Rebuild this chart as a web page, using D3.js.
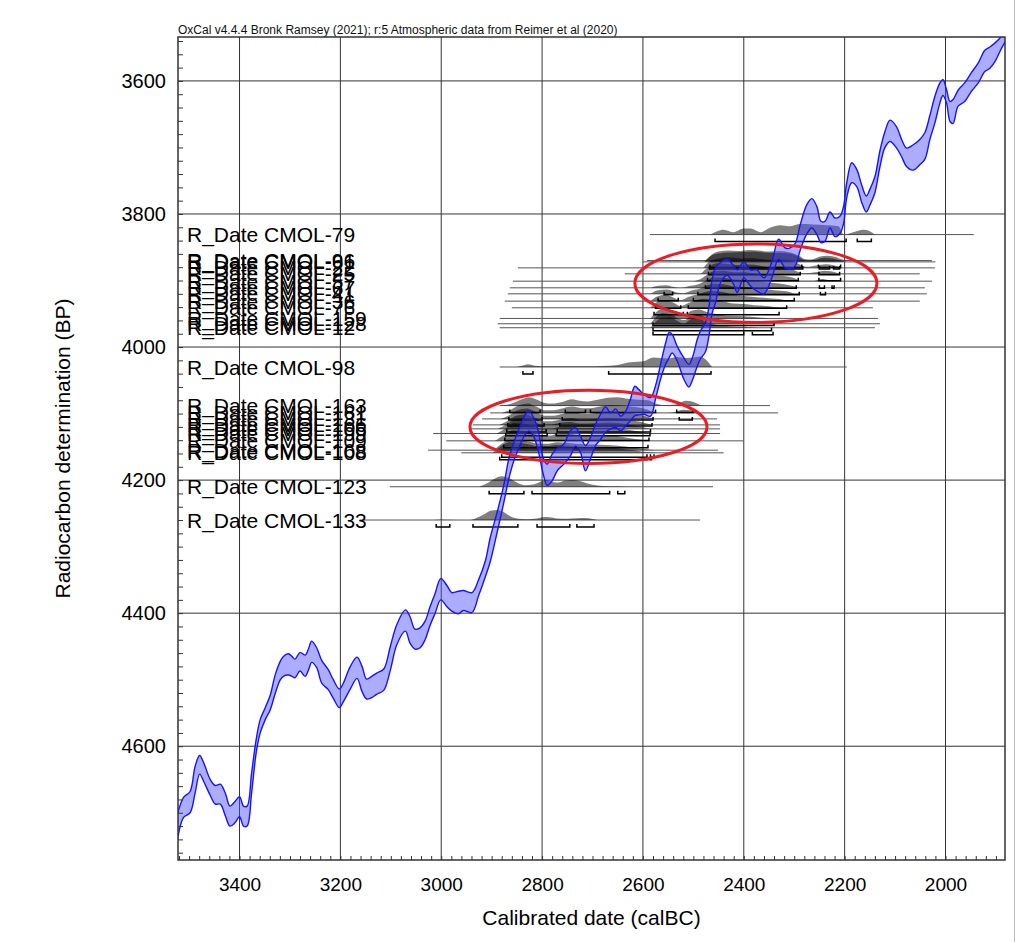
<!DOCTYPE html>
<html>
<head>
<meta charset="utf-8">
<script src="https://cdn.jsdelivr.net/npm/d3@7"></script>
<style>
  body { margin: 0; background: #fff; }
  text { font-family: "Liberation Sans", Arial, sans-serif; }
</style>
</head>
<body>
<div id="vis"></div>
<script>
// frame + plot box
const FRAME_WIDTH = 1020;
const FRAME_HEIGHT = 942;
const PLOT = { left: 178, right: 1005, top: 37, bottom: 860 };

// calibration curve (IntCal20): calBC year, BP mean, BP error
const curveYear = [3524, 3511, 3498, 3488, 3479, 3471, 3458, 3448, 3438, 3428, 3419, 3409, 3400, 3392, 3385, 3376, 3367, 3359, 3349, 3339,
  3329, 3319, 3313, 3303, 3296, 3290, 3280, 3270, 3263, 3257, 3247, 3237, 3224, 3214, 3202, 3194, 3181, 3167, 3157, 3148,
  3138, 3128, 3114, 3101, 3088, 3071, 3062, 3052, 3042, 3032, 3022, 3012, 3001, 2989, 2979, 2966, 2956, 2939, 2926, 2912,
  2903, 2889, 2876, 2866, 2856, 2843, 2833, 2826, 2817, 2807, 2798, 2790, 2780, 2770, 2757, 2744, 2734, 2724, 2714, 2704,
  2694, 2684, 2674, 2664, 2654, 2644, 2634, 2625, 2616, 2608, 2598, 2585, 2575, 2565, 2555, 2548, 2542, 2532, 2519, 2509,
  2502, 2492, 2486, 2476, 2469, 2463, 2456, 2446, 2433, 2420, 2413, 2400, 2387, 2374, 2360, 2344, 2331, 2318, 2308, 2298,
  2288, 2275, 2265, 2255, 2247, 2239, 2229, 2219, 2209, 2202, 2196, 2186, 2176, 2166, 2157, 2150, 2140, 2130, 2120, 2110,
  2097, 2087, 2077, 2064, 2051, 2041, 2031, 2021, 2011, 2005, 1998, 1991, 1985, 1975, 1962, 1949, 1935, 1922, 1912, 1902,
  1889, 1880];
const curveBP = [4725, 4692, 4684, 4650, 4628, 4639, 4662, 4673, 4672, 4688, 4705, 4699, 4691, 4705, 4705, 4655, 4600, 4570, 4551, 4534,
  4506, 4486, 4480, 4477, 4480, 4483, 4473, 4479, 4469, 4458, 4467, 4488, 4500, 4514, 4528, 4519, 4498, 4482, 4499, 4514,
  4511, 4506, 4500, 4468, 4432, 4411, 4425, 4439, 4437, 4426, 4404, 4385, 4364, 4374, 4383, 4384, 4381, 4384, 4362, 4332,
  4305, 4263, 4221, 4183, 4157, 4132, 4116, 4111, 4120, 4143, 4178, 4192, 4181, 4169, 4161, 4145, 4135, 4146, 4167, 4152,
  4132, 4120, 4109, 4111, 4107, 4115, 4107, 4095, 4081, 4083, 4086, 4090, 4068, 4037, 4010, 3997, 3995, 4010, 4032, 4043,
  4033, 4008, 3997, 3985, 3961, 3925, 3907, 3888, 3880, 3892, 3901, 3884, 3896, 3900, 3908, 3883, 3853, 3866, 3867, 3861,
  3835, 3808, 3799, 3810, 3827, 3826, 3809, 3820, 3816, 3801, 3765, 3738, 3746, 3770, 3785, 3775, 3756, 3717, 3688, 3675,
  3685, 3701, 3715, 3715, 3707, 3698, 3670, 3643, 3618, 3610, 3623, 3646, 3646, 3626, 3617, 3602, 3588, 3570, 3565, 3557,
  3542, 3530];
const curveErr = [20, 15, 16, 20, 14, 14, 12, 14, 15, 17, 15, 16, 15, 15, 15, 15, 10, 10, 9, 11,
  14, 14, 15, 16, 15, 14, 14, 16, 16, 16, 15, 17, 15, 14, 14, 14, 17, 16, 19, 15,
  16, 16, 16, 18, 15, 16, 20, 15, 15, 14, 14, 15, 16, 16, 14, 17, 15, 15, 12, 12,
  18, 15, 13, 15, 14, 14, 15, 15, 14, 15, 12, 16, 20, 17, 15, 19, 14, 12, 19, 16,
  16, 19, 19, 12, 14, 11, 11, 16, 22, 19, 15, 14, 10, 11, 16, 19, 14, 11, 16, 17,
  17, 20, 21, 22, 22, 25, 26, 15, 12, 14, 17, 12, 12, 16, 12, 12, 15, 15, 16, 17,
  19, 22, 22, 21, 16, 15, 12, 14, 13, 13, 11, 15, 13, 13, 12, 12, 12, 12, 12, 16,
  16, 13, 14, 19, 19, 20, 18, 20, 15, 12, 10, 15, 18, 12, 14, 14, 15, 16, 16, 14,
  9, 9];

// R_Date entries
const dateNames = ["CMOL-79", "CMOL-96", "CMOL-61", "CMOL-22", "CMOL-25", "CMOL-57", "CMOL-67", "CMOL-41", "CMOL-36",
  "CMOL-76", "CMOL-159", "CMOL-128", "CMOL-12", "CMOL-98", "CMOL-163", "CMOL-161", "CMOL-131", "CMOL-166", "CMOL-106",
  "CMOL-199", "CMOL-109", "CMOL-168", "CMOL-108", "CMOL-123", "CMOL-133"];
const dateBP = [3831, 3870, 3872, 3881, 3890, 3901, 3911, 3920, 3931, 3941, 3957, 3965, 3971, 4030,
  4088, 4099, 4108, 4117, 4123, 4130, 4141, 4155, 4159, 4210, 4260];
const lineFrom = [2586, 2592, 2600, 2848, 2636, 2858, 2864, 2868, 2874, 2860, 2884, 2888, 2884, 2884,
  2884, 2903, 2919, 2937, 2943, 3016, 2990, 3026, 2960, 3102, 3162];
const lineTo = [1944, 2027, 2020, 2021, 2051, 2027, 2041, 2037, 2051, 2144, 2134, 2130, 2140, 2196,
  2348, 2332, 2453, 2447, 2447, 2447, 2400, 2451, 2440, 2461, 2487];

// relative probability densities: [calBC, relative height]
const dens79 = [[2466, 0], [2453, 0.33], [2440, 0.47], [2420, 0.23], [2400, 0.57], [2387, 0.57], [2367, 0.23], [2347, 0.67], [2328, 0.9], [2308, 0.8], [2288, 1.0], [2262, 0.97], [2235, 0.9], [2212, 0.8], [2202, 0], [2183, 0.23], [2163, 0.47], [2150, 0.33], [2140, 0]];
const dens96 = [[2475, 0], [2465, 0.5], [2450, 0.85], [2430, 0.95], [2410, 0.9], [2390, 1.0], [2370, 0.95], [2350, 0.85], [2330, 0.9], [2310, 0.8], [2290, 0.45], [2280, 0.15], [2265, 0.1], [2250, 0.35], [2235, 0.45], [2220, 0.35], [2205, 0.1], [2195, 0]];
const dens61 = [[2478, 0], [2466, 0.55], [2450, 0.8], [2425, 0.9], [2400, 0.95], [2380, 1.0], [2360, 0.9], [2340, 0.85], [2320, 0.85], [2300, 0.7], [2288, 0.35], [2275, 0.12], [2258, 0.2], [2240, 0.4], [2225, 0.35], [2210, 0.15], [2198, 0]];
const dens22 = [[2480, 0], [2468, 0.6], [2450, 0.9], [2430, 1.0], [2405, 0.9], [2385, 0.95], [2365, 0.85], [2345, 0.75], [2325, 0.8], [2305, 0.7], [2290, 0.35], [2275, 0.1], [2255, 0.25], [2238, 0.35], [2222, 0.25], [2205, 0]];
const dens25 = [[2485, 0], [2470, 0.65], [2452, 1.0], [2432, 0.95], [2410, 0.85], [2390, 0.9], [2370, 0.8], [2350, 0.65], [2330, 0.7], [2310, 0.55], [2295, 0.25], [2280, 0.05], [2258, 0.15], [2240, 0.3], [2222, 0.2], [2210, 0]];
const dens57 = [[2500, 0], [2488, 0.15], [2475, 0.55], [2460, 0.95], [2440, 1.0], [2420, 0.85], [2400, 0.85], [2380, 0.75], [2360, 0.65], [2340, 0.55], [2320, 0.5], [2300, 0.3], [2288, 0.05], [2260, 0.05], [2245, 0.2], [2232, 0.1], [2220, 0]];
const dens67 = [[2585, 0], [2570, 0.2], [2555, 0.25], [2540, 0.1], [2525, 0], [2505, 0.2], [2490, 0.35], [2475, 0.7], [2458, 1.0], [2440, 0.95], [2420, 0.8], [2400, 0.75], [2380, 0.65], [2360, 0.55], [2340, 0.45], [2320, 0.35], [2300, 0.15], [2290, 0]];
const dens41 = [[2585, 0], [2570, 0.35], [2553, 0.4], [2535, 0.15], [2520, 0.05], [2505, 0.3], [2490, 0.45], [2475, 0.75], [2458, 0.95], [2440, 0.9], [2420, 0.7], [2400, 0.65], [2380, 0.55], [2360, 0.45], [2340, 0.35], [2315, 0.25], [2300, 0]];
const dens36 = [[2585, 0], [2572, 0.45], [2556, 0.6], [2540, 0.35], [2525, 0.1], [2510, 0.4], [2495, 0.6], [2478, 0.85], [2462, 1.0], [2440, 0.85], [2420, 0.6], [2400, 0.5], [2380, 0.4], [2355, 0.3], [2330, 0.2], [2310, 0]];
const dens76 = [[2585, 0], [2572, 0.55], [2556, 0.75], [2540, 0.5], [2525, 0.15], [2510, 0.45], [2495, 0.7], [2480, 0.85], [2462, 0.8], [2440, 0.6], [2420, 0.4], [2400, 0.35], [2380, 0.25], [2350, 0.15], [2330, 0]];
const dens159 = [[2585, 0], [2574, 0.6], [2560, 0.95], [2545, 0.8], [2530, 0.4], [2518, 0.3], [2505, 0.7], [2490, 0.85], [2472, 0.6], [2450, 0.4], [2430, 0.25], [2400, 0.2], [2370, 0.1], [2350, 0]];
const dens128 = [[2585, 0], [2575, 0.6], [2560, 1.0], [2545, 0.9], [2530, 0.5], [2518, 0.35], [2505, 0.75], [2490, 0.85], [2475, 0.55], [2455, 0.35], [2430, 0.2], [2400, 0.15], [2370, 0.05], [2360, 0]];
const dens12 = [[2585, 0], [2575, 0.55], [2560, 0.95], [2545, 1.0], [2530, 0.6], [2518, 0.4], [2505, 0.8], [2490, 0.9], [2475, 0.55], [2458, 0.3], [2430, 0.15], [2400, 0.1], [2370, 0]];
const dens98 = [[2850, 0], [2838, 0.15], [2828, 0.25], [2815, 0.12], [2800, 0.08], [2760, 0.06], [2720, 0.08], [2680, 0.1], [2650, 0.2], [2625, 0.45], [2610, 0.5], [2595, 0.6], [2580, 0.9], [2565, 0.85], [2550, 0.8], [2533, 0.95], [2515, 0.85], [2500, 0.9], [2487, 1.0], [2475, 0.7], [2463, 0]];
const dens163 = [[2880, 0], [2860, 0.2], [2840, 0.6], [2826, 0.8], [2810, 0.55], [2795, 0.25], [2780, 0.2], [2760, 0.35], [2740, 0.6], [2725, 0.45], [2710, 0.4], [2690, 0.55], [2670, 0.75], [2650, 0.8], [2630, 0.65], [2610, 0.55], [2590, 0.5], [2575, 0.2], [2560, 0.05], [2535, 0.1], [2515, 0.45], [2500, 0.35], [2485, 0]];
const dens161 = [[2880, 0], [2862, 0.3], [2845, 0.75], [2828, 0.9], [2812, 0.6], [2795, 0.25], [2778, 0.25], [2758, 0.45], [2740, 0.6], [2722, 0.45], [2705, 0.45], [2685, 0.6], [2665, 0.75], [2645, 0.7], [2625, 0.6], [2605, 0.5], [2590, 0.3], [2578, 0.05], [2560, 0], [2540, 0.05], [2520, 0.3], [2505, 0.25], [2490, 0]];
const dens131 = [[2882, 0], [2865, 0.35], [2848, 0.85], [2830, 1.0], [2812, 0.65], [2795, 0.3], [2778, 0.3], [2758, 0.5], [2740, 0.65], [2722, 0.5], [2705, 0.5], [2685, 0.6], [2665, 0.7], [2645, 0.65], [2625, 0.55], [2605, 0.4], [2590, 0.2], [2578, 0]];
const dens166 = [[2885, 0], [2868, 0.4], [2850, 0.9], [2832, 1.0], [2815, 0.7], [2798, 0.35], [2780, 0.35], [2760, 0.55], [2742, 0.65], [2724, 0.5], [2706, 0.5], [2686, 0.6], [2666, 0.65], [2646, 0.6], [2626, 0.45], [2605, 0.3], [2590, 0.1], [2580, 0]];
const dens106 = [[2888, 0], [2870, 0.45], [2852, 0.95], [2834, 1.0], [2816, 0.7], [2800, 0.4], [2782, 0.4], [2762, 0.6], [2744, 0.65], [2726, 0.5], [2708, 0.5], [2688, 0.55], [2668, 0.6], [2648, 0.55], [2628, 0.4], [2608, 0.25], [2592, 0.08], [2582, 0]];
const dens199 = [[2890, 0], [2872, 0.5], [2855, 1.0], [2836, 0.95], [2818, 0.7], [2800, 0.45], [2782, 0.45], [2764, 0.65], [2746, 0.65], [2728, 0.5], [2710, 0.5], [2690, 0.55], [2670, 0.55], [2650, 0.5], [2630, 0.35], [2610, 0.2], [2592, 0.05], [2582, 0]];
const dens109 = [[2893, 0], [2875, 0.55], [2858, 1.0], [2840, 0.95], [2820, 0.75], [2802, 0.5], [2784, 0.5], [2766, 0.7], [2748, 0.7], [2730, 0.55], [2712, 0.5], [2692, 0.5], [2672, 0.5], [2652, 0.45], [2632, 0.3], [2612, 0.15], [2595, 0.05], [2582, 0]];
const dens168 = [[2896, 0], [2880, 0.6], [2862, 1.0], [2844, 0.95], [2825, 0.8], [2806, 0.6], [2788, 0.6], [2770, 0.75], [2752, 0.7], [2734, 0.6], [2714, 0.55], [2694, 0.55], [2674, 0.5], [2654, 0.45], [2634, 0.35], [2615, 0.2], [2598, 0.1], [2585, 0.05], [2575, 0]];
const dens108 = [[2898, 0], [2882, 0.6], [2865, 1.0], [2846, 0.95], [2826, 0.8], [2808, 0.65], [2790, 0.65], [2772, 0.75], [2754, 0.7], [2736, 0.6], [2716, 0.55], [2696, 0.55], [2676, 0.5], [2656, 0.45], [2636, 0.35], [2617, 0.25], [2600, 0.1], [2585, 0.05], [2572, 0]];
const dens123 = [[2925, 0], [2910, 0.3], [2895, 0.75], [2880, 1.0], [2865, 0.8], [2850, 0.4], [2835, 0.15], [2815, 0.25], [2800, 0.55], [2790, 0.65], [2778, 0.45], [2768, 0.4], [2755, 0.6], [2740, 0.65], [2725, 0.55], [2710, 0.3], [2690, 0.12], [2670, 0.05], [2650, 0.04], [2630, 0]];
const dens133 = [[3015, 0], [3000, 0.05], [2985, 0.02], [2945, 0], [2930, 0.2], [2915, 0.55], [2900, 0.9], [2890, 0.95], [2878, 0.8], [2865, 0.4], [2850, 0.15], [2830, 0.08], [2810, 0.15], [2795, 0.28], [2785, 0.27], [2770, 0.15], [2750, 0.12], [2730, 0.18], [2715, 0.2], [2700, 0.1], [2690, 0]];
const densList = [dens79, dens96, dens61, dens22, dens25, dens57, dens67, dens41, dens36, dens76, dens159, dens128, dens12,
  dens98, dens163, dens161, dens131, dens166, dens106, dens199, dens109, dens168, dens108, dens123, dens133];

// 95.4% ranges, calBC
const rangeList = [
  [[2457, 2197], [2175, 2147]],
  [[2467, 2285], [2252, 2208]],
  [[2468, 2283], [2250, 2230], [2222, 2210]],
  [[2470, 2288], [2251, 2210]],
  [[2472, 2292], [2251, 2208]],
  [[2476, 2296], [2250, 2240], [2225, 2221]],
  [[2558, 2541], [2491, 2290], [2248, 2238]],
  [[2570, 2530], [2500, 2300]],
  [[2575, 2525], [2510, 2315]],
  [[2578, 2520], [2512, 2330]],
  [[2580, 2340]],
  [[2580, 2345]],
  [[2580, 2400], [2383, 2342]],
  [[2838, 2818], [2668, 2465]],
  [[2864, 2804], [2754, 2714], [2704, 2575], [2533, 2501]],
  [[2866, 2800], [2760, 2580], [2528, 2502]],
  [[2868, 2796], [2765, 2582]],
  [[2870, 2792], [2770, 2585]],
  [[2872, 2790], [2772, 2586]],
  [[2874, 2588]],
  [[2876, 2590]],
  [[2880, 2592], [2585, 2578]],
  [[2884, 2590], [2586, 2583]],
  [[2905, 2836], [2820, 2666], [2650, 2636]],
  [[3010, 2983], [2937, 2848], [2810, 2745], [2731, 2697]]
];

// highlighted groups (red ellipses)
const ringYear = [2376, 2708];
const ringBP = [3904, 4120];
const ringHalfYears = [240, 235];
const ringHalfBP = [59, 55];

const X_TICKS = [3400, 3200, 3000, 2800, 2600, 2400, 2200, 2000];
const Y_TICKS = [3600, 3800, 4000, 4200, 4400, 4600];

const X_SCALE = d3.scaleLinear().domain([3522, 1882]).range([PLOT.left, PLOT.right]);
const Y_SCALE = d3.scaleLinear().domain([3534, 4771]).range([PLOT.top, PLOT.bottom]);
const H_SCALE = d3.scaleLinear().domain([0, 1]).range([0, 10.5]);

const svg = d3.select("#vis")
  .append("svg")
  .attr("width", FRAME_WIDTH)
  .attr("height", FRAME_HEIGHT);

svg.append("rect").attr("width", FRAME_WIDTH).attr("height", FRAME_HEIGHT).attr("fill", "#fff");
svg.append("line")
  .attr("x1", 1014.5).attr("x2", 1014.5).attr("y1", 0).attr("y2", FRAME_HEIGHT)
  .attr("stroke", "#bbb").attr("stroke-width", 1);

svg.append("defs").append("clipPath").attr("id", "plotclip")
  .append("rect")
  .attr("x", PLOT.left).attr("y", PLOT.top)
  .attr("width", PLOT.right - PLOT.left).attr("height", PLOT.bottom - PLOT.top);

// header
svg.append("text")
  .attr("x", PLOT.left).attr("y", 34)
  .attr("font-size", 12).attr("fill", "#111")
  .text("OxCal v4.4.4 Bronk Ramsey (2021); r:5 Atmospheric data from Reimer et al (2020)");

// grid
const grid = svg.append("g");
grid.selectAll(".vgrid").data(X_TICKS).enter().append("line")
  .attr("x1", d => X_SCALE(d)).attr("x2", d => X_SCALE(d))
  .attr("y1", PLOT.top).attr("y2", PLOT.bottom)
  .attr("stroke", "#333").attr("stroke-width", 1);
grid.selectAll(".hgrid").data(Y_TICKS).enter().append("line")
  .attr("x1", PLOT.left).attr("x2", PLOT.right)
  .attr("y1", d => Y_SCALE(d)).attr("y2", d => Y_SCALE(d))
  .attr("stroke", "#333").attr("stroke-width", 1);

const plot = svg.append("g").attr("clip-path", "url(#plotclip)");

// dates: baseline, distribution, ranges
const dates = dateNames.map((name, i) => ({
  name: name, bp: dateBP[i], from: lineFrom[i], to: lineTo[i], dens: densList[i], ranges: rangeList[i]
}));

plot.selectAll(".baseline").data(dates).enter().append("line")
  .attr("x1", d => X_SCALE(d.from)).attr("x2", d => X_SCALE(d.to))
  .attr("y1", d => Y_SCALE(d.bp)).attr("y2", d => Y_SCALE(d.bp))
  .attr("stroke", "#555").attr("stroke-width", 1);

plot.selectAll(".dist").data(dates).enter().append("path")
  .attr("d", d => d3.area()
    .x(p => X_SCALE(p[0]))
    .y0(Y_SCALE(d.bp))
    .y1(p => Y_SCALE(d.bp) - H_SCALE(p[1]))
    .curve(d3.curveMonotoneX)(d.dens))
  .attr("fill", "#000").attr("fill-opacity", 0.5);

dates.forEach(d => {
  const yb = Y_SCALE(d.bp) + 7;
  plot.selectAll(null).data(d.ranges).enter().append("path")
    .attr("d", r => `M${X_SCALE(r[0])},${yb - 3}V${yb}H${X_SCALE(r[1])}V${yb - 3}`)
    .attr("fill", "none").attr("stroke", "#000").attr("stroke-width", 1.5);
});

// calibration curve band
const curveData = curveYear.map((y, i) => ({ year: y, bp: curveBP[i], err: curveErr[i] }));
plot.append("path")
  .datum(curveData)
  .attr("d", d3.area()
    .x(d => X_SCALE(d.year))
    .y0(d => Y_SCALE(d.bp + d.err))
    .y1(d => Y_SCALE(d.bp - d.err))
    .curve(d3.curveCatmullRom))
  .attr("fill", "#4a4aff").attr("fill-opacity", 0.45);

[1, -1].forEach(s => {
  plot.append("path")
    .datum(curveData)
    .attr("d", d3.line()
      .x(d => X_SCALE(d.year))
      .y(d => Y_SCALE(d.bp + s * d.err))
      .curve(d3.curveCatmullRom))
    .attr("fill", "none").attr("stroke", "#1414ff").attr("stroke-width", 1.4);
});

// date labels
svg.selectAll(".lab").data(dates).enter().append("text")
  .attr("x", 187).attr("y", d => Y_SCALE(d.bp))
  .attr("dy", "0.36em")
  .attr("font-size", 21).attr("fill", "#000")
  .text(d => "R_Date " + d.name);

// highlight ellipses
svg.selectAll(".ring").data(ringYear).enter().append("ellipse")
  .attr("cx", (d, i) => X_SCALE(d))
  .attr("cy", (d, i) => Y_SCALE(ringBP[i]))
  .attr("rx", (d, i) => X_SCALE(d - ringHalfYears[i]) - X_SCALE(d))
  .attr("ry", (d, i) => Y_SCALE(ringBP[i] + ringHalfBP[i]) - Y_SCALE(ringBP[i]))
  .attr("fill", "none").attr("stroke", "#ec1c24").attr("stroke-width", 3);

// frame
svg.append("rect")
  .attr("x", PLOT.left).attr("y", PLOT.top)
  .attr("width", PLOT.right - PLOT.left).attr("height", PLOT.bottom - PLOT.top)
  .attr("fill", "none").attr("stroke", "#333").attr("stroke-width", 1.5);

// minor ticks
const xMinor = svg.append("g").attr("transform", `translate(0,${PLOT.bottom})`)
  .call(d3.axisBottom(X_SCALE).tickValues(d3.range(1900, 3521, 20)).tickSize(-4).tickFormat(""));
xMinor.select(".domain").remove();
xMinor.selectAll("line").attr("stroke", "#333");
const yMinor = svg.append("g").attr("transform", `translate(${PLOT.left},0)`)
  .call(d3.axisLeft(Y_SCALE).tickValues(d3.range(3540, 4771, 20)).tickSize(-5).tickFormat(""));
yMinor.select(".domain").remove();
yMinor.selectAll("line").attr("stroke", "#333");

// axis labels
const xAxis = svg.append("g").attr("transform", `translate(0,${PLOT.bottom})`)
  .call(d3.axisBottom(X_SCALE).tickValues(X_TICKS).tickSize(0).tickPadding(18).tickFormat(d3.format("d")));
xAxis.select(".domain").remove();
xAxis.selectAll("text").attr("font-size", 19).attr("fill", "#000")
  .attr("font-family", "'Liberation Sans', Arial, sans-serif");

const yAxis = svg.append("g").attr("transform", `translate(${PLOT.left},0)`)
  .call(d3.axisLeft(Y_SCALE).tickValues(Y_TICKS).tickSize(0).tickPadding(12).tickFormat(d3.format("d")));
yAxis.select(".domain").remove();
yAxis.selectAll("text").attr("font-size", 20).attr("fill", "#000")
  .attr("font-family", "'Liberation Sans', Arial, sans-serif");

svg.append("text")
  .attr("x", (PLOT.left + PLOT.right) / 2).attr("y", 925)
  .attr("text-anchor", "middle").attr("font-size", 21)
  .text("Calibrated date (calBC)");

svg.append("text")
  .attr("transform", `translate(70,${(PLOT.top + PLOT.bottom) / 2}) rotate(-90)`)
  .attr("text-anchor", "middle").attr("font-size", 21)
  .text("Radiocarbon determination (BP)");
</script>
</body>
</html>
